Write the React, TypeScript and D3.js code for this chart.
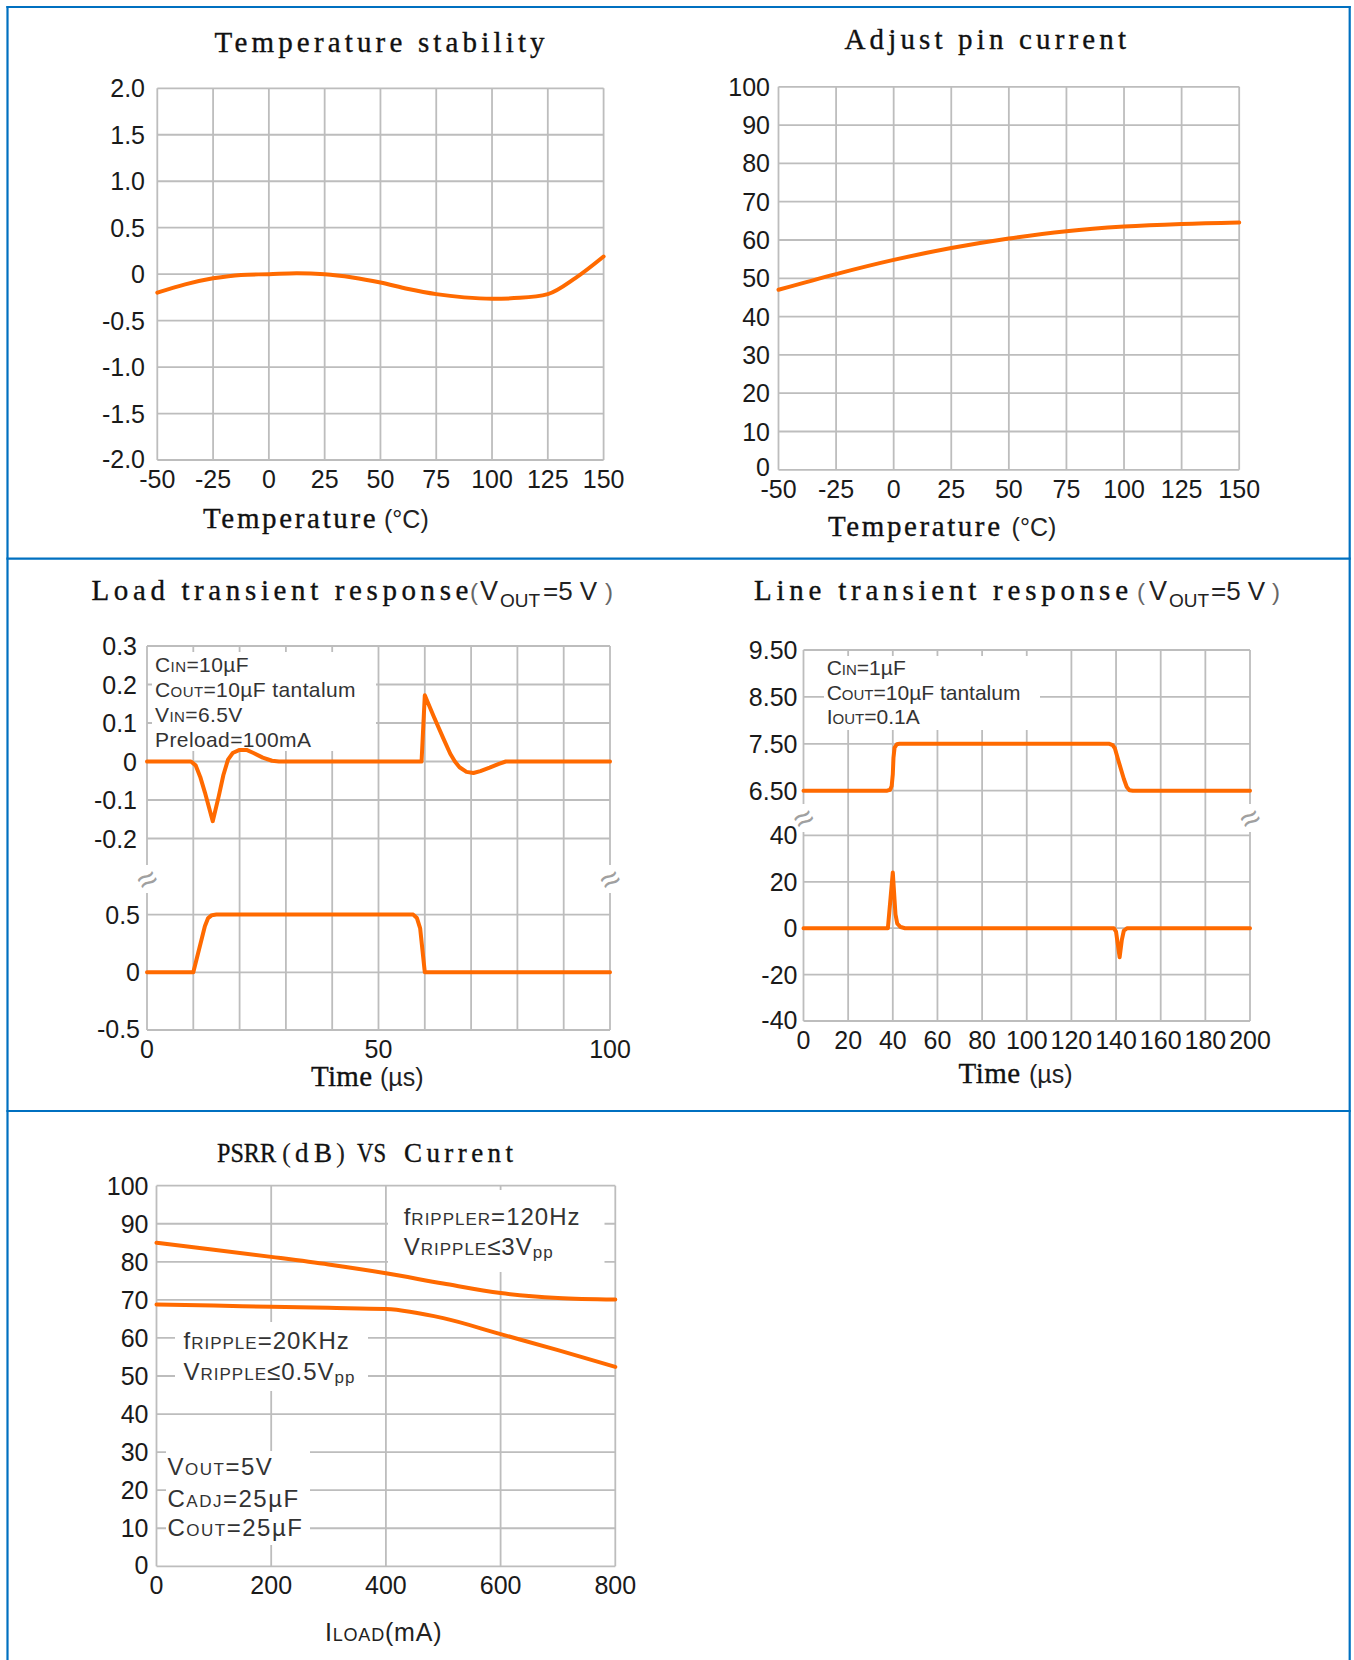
import React from 'react'
import * as d3 from 'd3'

const W = 1354
const H = 1660

const ORANGE = '#ff6a00'
const GRID = '#bdbdbd'
const BLUE = '#0070c0'
const INK = '#1a1a1a'
const NOTE = '#333333'
const SANS = '"Liberation Sans", Arial, sans-serif'
const SERIF = '"Liberation Serif", "Times New Roman", serif'

// Temperature stability (%)
const stabT = [-50, -37.5, -25, -12.5, 0, 12.5, 25, 37.5, 50, 62.5, 75, 87.5, 100, 112.5, 125, 137.5, 150]
const stabV = [-0.2, -0.11, -0.045, -0.008, 0, 0.01, 0, -0.035, -0.09, -0.16, -0.215, -0.25, -0.265, -0.255, -0.215, -0.04, 0.19]
const stabTicks = [-2, -1.5, -1, -0.5, 0, 0.5, 1, 1.5, 2]
const stabLabels = ['-2.0', '-1.5', '-1.0', '-0.5', '0', '0.5', '1.0', '1.5', '2.0']
const tempTicks = [-50, -25, 0, 25, 50, 75, 100, 125, 150]

// Adjust pin current (uA)
const adjT = [-50, -25, 0, 25, 50, 75, 100, 125, 150]
const adjI = [47, 51.1, 54.8, 57.9, 60.4, 62.3, 63.5, 64.2, 64.6]
const adjTicks = [0, 10, 20, 30, 40, 50, 60, 70, 80, 90, 100]

// Load transient: output deviation (V) and load step (A)
const loadDevT = [0, 9.5, 10.5, 11.5, 12.5, 14.2, 15.5, 16.5, 17.5, 18.5, 20, 21.5, 23, 25, 27, 28.5, 59.3, 60, 62, 64, 65.5, 66.5, 67.5, 69, 70.5, 72, 74, 76, 77.5, 100]
const loadDevV = [0, 0, -0.01, -0.04, -0.08, -0.155, -0.09, -0.035, 0.005, 0.022, 0.03, 0.03, 0.022, 0.01, 0.002, 0, 0, 0.172, 0.115, 0.06, 0.02, 0, -0.015, -0.027, -0.03, -0.025, -0.016, -0.006, 0, 0]
const loadStepT = [0, 10, 12.5, 13.2, 14, 15, 57.5, 58.3, 59, 60, 100]
const loadStepA = [0, 0, 0.4, 0.47, 0.495, 0.5, 0.5, 0.47, 0.38, 0, 0]
const loadUpTicks = [0.3, 0.2, 0.1, 0, -0.1, -0.2]
const loadUpLabels = ['0.3', '0.2', '0.1', '0', '-0.1', '-0.2']
const loadLoTicks = [0.5, 0, -0.5]
const loadLoLabels = ['0.5', '0', '-0.5']
const loadTimeTicks = [0, 10, 20, 30, 40, 50, 60, 70, 80, 90, 100]
const loadTimeLabels = [0, 50, 100]

// Line transient: input step (V) and output deviation (mV)
const lineInT = [0, 37.5, 38.8, 39.5, 40, 40.3, 40.8, 41.8, 43, 137, 138.5, 139.5, 141, 143.5, 144.8, 146, 147.5, 200]
const lineInV = [6.5, 6.5, 6.52, 6.6, 6.85, 7.2, 7.42, 7.49, 7.5, 7.5, 7.47, 7.4, 7.15, 6.75, 6.58, 6.51, 6.5, 6.5]
const lineDevT = [0, 37.8, 40, 41.2, 42, 43.5, 45.5, 139, 140, 141.6, 142.6, 143.5, 145, 200]
const lineDevV = [0, 0, 24, 6, 2, 0.5, 0, 0, -1.5, -12.5, -5, -1, 0, 0]
const lineUpTicks = [9.5, 8.5, 7.5, 6.5]
const lineUpLabels = ['9.50', '8.50', '7.50', '6.50']
const lineLoTicks = [40, 20, 0, -20, -40]
const lineTimeTicks = [0, 20, 40, 60, 80, 100, 120, 140, 160, 180, 200]

// PSRR vs load current
const loadMA = [0, 100, 200, 300, 400, 500, 600, 700, 800]
const psrr120 = [85, 83.2, 81.3, 79.3, 77, 74.3, 71.8, 70.5, 70.1]
const psrr20k = [68.8, 68.5, 68.2, 67.9, 67.6, 65.2, 61, 56.8, 52.4]
const psrrTicks = [0, 10, 20, 30, 40, 50, 60, 70, 80, 90, 100]
const maTicks = [0, 200, 400, 600, 800]

const x1 = d3.scaleLinear().domain([-50, 150]).range([157.3, 603.6])
const y1 = d3.scaleLinear().domain([-2, 2]).range([460, 88.3])
const x2 = d3.scaleLinear().domain([-50, 150]).range([778.5, 1239.2])
const y2 = d3.scaleLinear().domain([0, 100]).range([469.8, 86.8])
const x3 = d3.scaleLinear().domain([0, 100]).range([147, 610])
const y3a = d3.scaleLinear().domain([-0.2, 0.3]).range([838.5, 646])
const y3b = d3.scaleLinear().domain([-0.5, 0.5]).range([1030, 914.6])
const x4 = d3.scaleLinear().domain([0, 200]).range([803.5, 1250])
const y4a = d3.scaleLinear().domain([6.5, 9.5]).range([790.7, 650])
const y4b = d3.scaleLinear().domain([-40, 40]).range([1021, 835.4])
const x5 = d3.scaleLinear().domain([0, 800]).range([156.5, 615.3])
const y5 = d3.scaleLinear().domain([0, 100]).range([1566.3, 1185.7])

const pathOf = (xs, ys, x, y, curve = d3.curveLinear) => {
    const pts = xs.map((v, i) => [v, ys[i]])
    return d3
        .line()
        .x((d) => x(d[0]))
        .y((d) => y(d[1]))
        .curve(curve)(pts)
}

const Trace = ({ d }) => (
    <path d={d} fill="none" stroke={ORANGE} strokeWidth={4} strokeLinejoin="round" strokeLinecap="round" />
)

const Grid = ({ xs, ys, x0, x1, y0, y1 }) => (
    <g stroke={GRID} strokeWidth={1.8}>
        {xs.map((px, i) => (
            <line key={'v' + i} x1={px} x2={px} y1={y0} y2={y1} />
        ))}
        {ys.map((py, i) => (
            <line key={'h' + i} x1={x0} x2={x1} y1={py} y2={py} />
        ))}
    </g>
)

// lift: pixels to raise the label of the lowest tick (keeps it clear of the x labels)
const YLabels = ({ ticks, labels, scale, x, lift = 0 }) => {
    const lowest = d3.min(ticks)
    return (
        <g fontFamily={SANS} fontSize={25} fill={INK} textAnchor="end">
            {ticks.map((t, i) => (
                <text key={i} x={x} y={scale(t) - (t === lowest ? lift : 0)} dy="0.36em">
                    {labels ? labels[i] : t}
                </text>
            ))}
        </g>
    )
}

const XLabels = ({ ticks, scale, y }) => (
    <g fontFamily={SANS} fontSize={25} fill={INK} textAnchor="middle">
        {ticks.map((t, i) => (
            <text key={i} x={scale(t)} y={y}>
                {t}
            </text>
        ))}
    </g>
)

const Title = ({ x, y, len, size = 29, adjust = 'spacing', children }) => (
    <text
        x={x}
        y={y}
        fontFamily={SERIF}
        fontSize={size}
        fill="#111"
        stroke="#111"
        strokeWidth={0.35}
        textLength={len}
        lengthAdjust={adjust}
    >
        {children}
    </text>
)

// a line of note text; parts are [text, fontSize, dy]
const Note = ({ x, y, parts, ls = 0, size = 21 }) => (
    <text x={x} y={y} fontFamily={SANS} fill={NOTE} letterSpacing={ls}>
        {parts.map((p, i) => (
            <tspan key={i} fontSize={p[1] || size} dy={p[2] || 0}>
                {p[0]}
            </tspan>
        ))}
    </text>
)

const Break = ({ x, y }) => (
    <g>
        <rect x={x - 5} y={y - 14} width={10} height={28} fill="#fff" />
        <text
            x={x}
            y={y}
            dy="0.35em"
            textAnchor="middle"
            fontFamily={SANS}
            fontSize={34}
            fill="#a0a0a0"
            transform={`rotate(-30 ${x} ${y})`}
        >
            ≈
        </text>
    </g>
)

const VoutSuffix = ({ p1, v, out, eq, p2, y }) => (
    <g fill="#222" fontFamily={SANS}>
        <text x={p1} y={y} fontSize={24} fill="#666">(</text>
        <text x={v} y={y} fontSize={27}>V</text>
        <text x={out} y={y + 7} fontSize={19}>OUT</text>
        <text x={eq} y={y} fontSize={26}>=5 V</text>
        <text x={p2} y={y} fontSize={24} fill="#666">)</text>
    </g>
)

const TempStability = () => (
    <g>
        <Title x={214.6} y={52} len={330}>Temperature stability</Title>
        <Grid xs={tempTicks.map(x1)} ys={stabTicks.map(y1)} x0={x1(-50)} x1={x1(150)} y0={y1(2)} y1={y1(-2)} />
        <YLabels ticks={stabTicks} labels={stabLabels} scale={y1} x={145} lift={1} />
        <XLabels ticks={tempTicks} scale={x1} y={487.5} />
        <Trace d={pathOf(stabT, stabV, x1, y1, d3.curveMonotoneX)} />
        <Title x={203} y={528.4} len={172.7}>Temperature</Title>
        <text x={384} y={528.4} fontFamily={SANS} fontSize={25} fill="#222">(°C)</text>
    </g>
)

const AdjustPin = () => (
    <g>
        <Title x={844.5} y={48.5} len={281.5}>Adjust pin current</Title>
        <Grid xs={tempTicks.map(x2)} ys={adjTicks.map(y2)} x0={x2(-50)} x1={x2(150)} y0={y2(100)} y1={y2(0)} />
        <YLabels ticks={adjTicks} scale={y2} x={770} lift={3} />
        <XLabels ticks={tempTicks} scale={x2} y={497.5} />
        <Trace d={pathOf(adjT, adjI, x2, y2, d3.curveMonotoneX)} />
        <Title x={828} y={535.5} len={172}>Temperature</Title>
        <text x={1011.6} y={535.5} fontFamily={SANS} fontSize={25} fill="#222">(°C)</text>
    </g>
)

const LoadTransient = () => (
    <g>
        <Title x={91.5} y={599.6} len={377}>Load transient response</Title>
        <VoutSuffix p1={470} v={480} out={500} eq={543} p2={605} y={599.6} />
        <Grid
            xs={loadTimeTicks.map(x3)}
            ys={[...loadUpTicks.map(y3a), ...loadLoTicks.map(y3b)]}
            x0={x3(0)}
            x1={x3(100)}
            y0={y3a(0.3)}
            y1={y3b(-0.5)}
        />
        <YLabels ticks={loadUpTicks} labels={loadUpLabels} scale={y3a} x={137} />
        <YLabels ticks={loadLoTicks} labels={loadLoLabels} scale={y3b} x={140} lift={1} />
        <XLabels ticks={loadTimeLabels} scale={x3} y={1057.5} />
        <Break x={x3(0)} y={879} />
        <Break x={x3(100)} y={879} />
        <rect x={152} y={652} width={224} height={99} fill="#fff" />
        <Note x={155} y={671.7} ls={0.4} parts={[['C'], ['IN', 15], ['=10µF']]} />
        <Note x={155} y={696.7} ls={0.4} parts={[['C'], ['OUT', 15], ['=10µF tantalum']]} />
        <Note x={155} y={721.7} ls={0.4} parts={[['V'], ['IN', 15], ['=6.5V']]} />
        <Note x={155} y={746.7} ls={0.4} parts={[['Preload=100mA']]} />
        <Trace d={pathOf(loadDevT, loadDevV, x3, y3a)} />
        <Trace d={pathOf(loadStepT, loadStepA, x3, y3b)} />
        <Title x={311} y={1086} len={61}>Time</Title>
        <text x={380} y={1086} fontFamily={SANS} fontSize={25} fill="#222">(µs)</text>
    </g>
)

const LineTransient = () => (
    <g>
        <Title x={754} y={599.6} len={374}>Line transient response</Title>
        <VoutSuffix p1={1137} v={1149} out={1169} eq={1211} p2={1272} y={599.6} />
        <Grid
            xs={lineTimeTicks.map(x4)}
            ys={[...lineUpTicks.map(y4a), ...lineLoTicks.map(y4b)]}
            x0={x4(0)}
            x1={x4(200)}
            y0={y4a(9.5)}
            y1={y4b(-40)}
        />
        <YLabels ticks={lineUpTicks} labels={lineUpLabels} scale={y4a} x={797.5} />
        <YLabels ticks={lineLoTicks} scale={y4b} x={797.5} lift={1} />
        <XLabels ticks={lineTimeTicks} scale={x4} y={1048.5} />
        <Break x={x4(0)} y={818} />
        <Break x={x4(200)} y={818} />
        <rect x={824} y={656} width={216} height={74} fill="#fff" />
        <Note x={826.7} y={675} parts={[['C'], ['IN', 15], ['=1µF']]} />
        <Note x={826.7} y={699.5} parts={[['C'], ['OUT', 15], ['=10µF tantalum']]} />
        <Note x={826.7} y={724} parts={[['I'], ['OUT', 15], ['=0.1A']]} />
        <Trace d={pathOf(lineInT, lineInV, x4, y4a)} />
        <Trace d={pathOf(lineDevT, lineDevV, x4, y4b)} />
        <Title x={958.5} y={1083} len={61.5}>Time</Title>
        <text x={1029} y={1083} fontFamily={SANS} fontSize={25} fill="#222">(µs)</text>
    </g>
)

const Psrr = () => (
    <g>
        <Title x={217} y={1161.6} len={59} size={27} adjust="spacingAndGlyphs">PSRR</Title>
        <text x={282} y={1161.6} fontFamily={SERIF} fontSize={27} fill="#222">(</text>
        <Title x={295} y={1161.6} len={37} size={27}>dB</Title>
        <text x={336} y={1161.6} fontFamily={SERIF} fontSize={27} fill="#222">)</text>
        <Title x={357} y={1161.6} len={29} size={27} adjust="spacingAndGlyphs">VS</Title>
        <Title x={404} y={1161.6} len={109} size={27}>Current</Title>
        <Grid xs={maTicks.map(x5)} ys={psrrTicks.map(y5)} x0={x5(0)} x1={x5(800)} y0={y5(100)} y1={y5(0)} />
        <YLabels ticks={psrrTicks} scale={y5} x={148.5} lift={1} />
        <XLabels ticks={maTicks} scale={x5} y={1593.5} />
        <rect x={388} y={1190} width={216.5} height={82} fill="#fff" />
        <rect x={175} y={1322} width={193} height={69} fill="#fff" />
        <rect x={166} y={1451} width={144} height={94} fill="#fff" />
        <Trace d={pathOf(loadMA, psrr120, x5, y5, d3.curveMonotoneX)} />
        <Trace d={pathOf(loadMA, psrr20k, x5, y5, d3.curveMonotoneX)} />
        <Note x={403.7} y={1225.4} size={24} ls={1} parts={[['f'], ['RIPPLER', 17], ['=120Hz']]} />
        <Note x={403.7} y={1255.4} size={24} ls={1} parts={[['V'], ['RIPPLE', 17], ['≤3V'], ['pp', 17, 3]]} />
        <Note x={183.5} y={1348.6} size={24} ls={1} parts={[['f'], ['RIPPLE', 17], ['=20KHz']]} />
        <Note x={183.5} y={1380.4} size={24} ls={1} parts={[['V'], ['RIPPLE', 17], ['≤0.5V'], ['pp', 17, 3]]} />
        <Note x={167.5} y={1475} size={24} ls={1.5} parts={[['V'], ['OUT', 17], ['=5V']]} />
        <Note x={167.5} y={1506.8} size={24} ls={1.5} parts={[['C'], ['ADJ', 17], ['=25µF']]} />
        <Note x={167.5} y={1536} size={24} ls={1.5} parts={[['C'], ['OUT', 17], ['=25µF']]} />
        <text x={325} y={1641} fontFamily={SANS} fill="#222" letterSpacing={0.8}>
            <tspan fontSize={25}>I</tspan>
            <tspan fontSize={18}>LOAD</tspan>
            <tspan fontSize={25}>(mA)</tspan>
        </text>
    </g>
)

const App = () => (
    <svg
        width={W}
        height={H}
        viewBox={`0 0 ${W} ${H}`}
        style={{ position: 'absolute', left: 0, top: 0, display: 'block', background: '#fff' }}
    >
        <rect width={W} height={H} fill="#fff" />
        <TempStability />
        <AdjustPin />
        <LoadTransient />
        <LineTransient />
        <Psrr />
        {/* table borders */}
        <g stroke={BLUE} strokeWidth={2.2}>
            <line x1={7.5} x2={7.5} y1={6} y2={H} />
            <line x1={1349.7} x2={1349.7} y1={6} y2={H} />
            <line x1={6.4} x2={1350.8} y1={7} y2={7} />
            <line x1={6.4} x2={1350.8} y1={558.7} y2={558.7} />
            <line x1={6.4} x2={1350.8} y1={1111} y2={1111} />
        </g>
    </svg>
)

export default App
